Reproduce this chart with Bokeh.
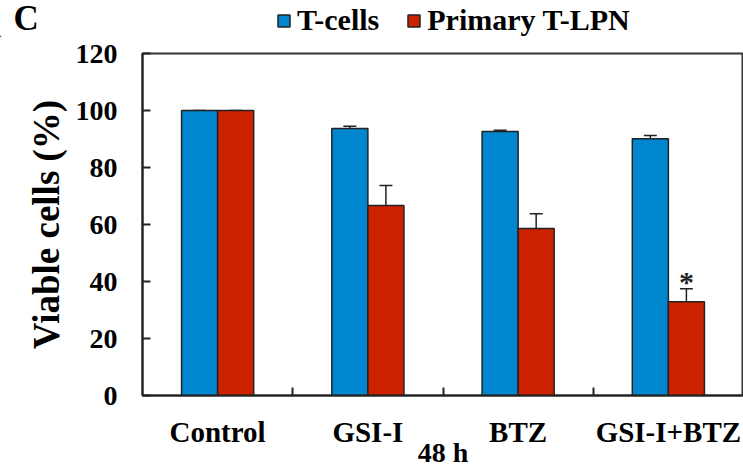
from bokeh.plotting import figure
from bokeh.layouts import column
from bokeh.models import (Range1d, FixedTicker, ColumnDataSource, Whisker, TeeHead,
                          Legend, LegendItem, Label)
from bokeh.core.properties import value
from bokeh.embed import file_html
from bokeh.resources import INLINE

categories = ["Control", "GSI-I", "BTZ", "GSI-I+BTZ"]
tcells = [100.0, 93.7, 92.6, 90.1]
tcells_err = [0.0, 0.8, 0.5, 1.1]
tlpn = [100.0, 66.7, 58.6, 32.9]
tlpn_err = [0.0, 7.0, 5.2, 4.6]
y_ticks = [0, 20, 40, 60, 80, 100, 120]
series_names = ["T-cells", "Primary T-LPN"]
x_title = "48 h"
y_title = "Viable cells (%)"
panel_tag = "C"
BLUE = "#0086CE"
RED = "#CC2200"
EDGE = "#222222"
FONT = "Liberation Serif"

W = 743
HEAD_H = 37
MAIN_H = 470 - HEAD_H

n = len(categories)
centers = [i + 0.5 for i in range(n)]
bw = 0.24
xb = [c - bw / 2 for c in centers]
xr = [c + bw / 2 for c in centers]

# ---------- header: panel tag + legend ----------
hdr = figure(width=W, height=HEAD_H, output_backend="svg", toolbar_location=None,
             x_range=Range1d(0, W), y_range=Range1d(0, HEAD_H),
             x_axis_location=None, y_axis_location=None,
             min_border_left=0, min_border_right=0, min_border_top=0, min_border_bottom=0)
if "frame_align" in hdr.properties():
    hdr.frame_align = False
hdr.outline_line_color = None
hdr.xgrid.visible = False
hdr.ygrid.visible = False
hdr.add_layout(Label(x=13, y=0, text=panel_tag, text_font=FONT, text_font_style="bold",
                     text_font_size="35px", text_align="left", text_baseline="bottom",
                     text_color="black"))

# legend proxies (off-range, invisible in the header frame)
hb = hdr.vbar(x=[-10], top=[1], width=1, fill_color=BLUE, line_color=EDGE, line_width=1.5)
hr = hdr.vbar(x=[-10], top=[1], width=1, fill_color=RED, line_color=EDGE, line_width=1.5)
legend = Legend(items=[LegendItem(label=series_names[0], renderers=[hb]),
                       LegendItem(label=series_names[1], renderers=[hr])],
                location=(276, 0), orientation="horizontal",
                padding=0, margin=0, spacing=27, glyph_width=15, glyph_height=15,
                label_standoff=6, label_text_font=FONT, label_text_font_style="bold",
                label_text_font_size="30px", label_text_color="black",
                background_fill_alpha=0, border_line_color=None)
hdr.add_layout(legend, "center")

# ---------- main chart ----------
p = figure(width=W, height=MAIN_H, output_backend="svg", toolbar_location=None,
           x_range=Range1d(0, n), y_range=Range1d(0, 120),
           min_border_left=142, min_border_right=0, min_border_top=16, min_border_bottom=75)
if "frame_align" in p.properties():
    p.frame_align = False
p.background_fill_color = "white"
p.border_fill_color = "white"
p.outline_line_color = "#333333"
p.outline_line_width = 2
p.xgrid.visible = False
p.ygrid.visible = False

src_b = ColumnDataSource(dict(x=xb, top=tcells, upper=[v + e for v, e in zip(tcells, tcells_err)]))
src_r = ColumnDataSource(dict(x=xr, top=tlpn, upper=[v + e for v, e in zip(tlpn, tlpn_err)]))

rb = p.vbar(x="x", top="top", bottom=0, width=bw, source=src_b, fill_color=BLUE,
            line_color=EDGE, line_width=1.5)
rr = p.vbar(x="x", top="top", bottom=0, width=bw, source=src_r, fill_color=RED,
            line_color=EDGE, line_width=1.5)

for src in (src_b, src_r):
    w = Whisker(base="x", upper="upper", lower="top", source=src, dimension="height",
                upper_head=TeeHead(size=13, line_width=1.5, line_color=EDGE),
                lower_head=None, line_width=1.5, line_color=EDGE)
    p.add_layout(w)

# significance star
p.text(x=[xr[3]], y=[tlpn[3] + tlpn_err[3]], text=["*"], text_font=value(FONT),
       text_font_size="30px", text_font_style="bold", text_align="center",
       text_baseline="middle", y_offset=-7, text_color=EDGE)

# x axis
xa = p.xaxis[0]
xa.ticker = FixedTicker(ticks=centers, minor_ticks=[1, 2, 3])
xa.major_label_overrides = {c: lab for c, lab in zip(centers, categories)}
xa.major_tick_in = 0
xa.major_tick_out = 0
xa.minor_tick_in = 8
xa.minor_tick_out = 0
xa.minor_tick_line_width = 2
xa.minor_tick_line_color = EDGE
xa.axis_line_width = 2
xa.axis_line_color = EDGE
xa.major_label_text_font = FONT
xa.major_label_text_font_style = "bold"
xa.major_label_text_font_size = "29px"
xa.major_label_text_color = "black"
xa.major_label_standoff = 20
xa.axis_label = x_title
xa.axis_label_text_font = FONT
xa.axis_label_text_font_style = "bold"
xa.axis_label_text_font_size = "28px"
xa.axis_label_text_color = "black"
xa.axis_label_standoff = -14

# y axis
ya = p.yaxis[0]
ya.ticker = FixedTicker(ticks=y_ticks)
ya.major_tick_in = 8
ya.major_tick_out = 0
ya.minor_tick_line_color = None
ya.major_tick_line_width = 2
ya.major_tick_line_color = EDGE
ya.axis_line_width = 2
ya.axis_line_color = EDGE
ya.major_label_text_font = FONT
ya.major_label_text_font_style = "bold"
ya.major_label_text_font_size = "28px"
ya.major_label_text_color = "black"
ya.major_label_standoff = 25
ya.axis_label = y_title
ya.axis_label_text_font = FONT
ya.axis_label_text_font_style = "bold"
ya.axis_label_text_font_size = "37px"
ya.axis_label_text_color = "black"
ya.axis_label_standoff = 6

layout = column(hdr, p, spacing=0)
open("out.html", "w").write(file_html(layout, INLINE))
